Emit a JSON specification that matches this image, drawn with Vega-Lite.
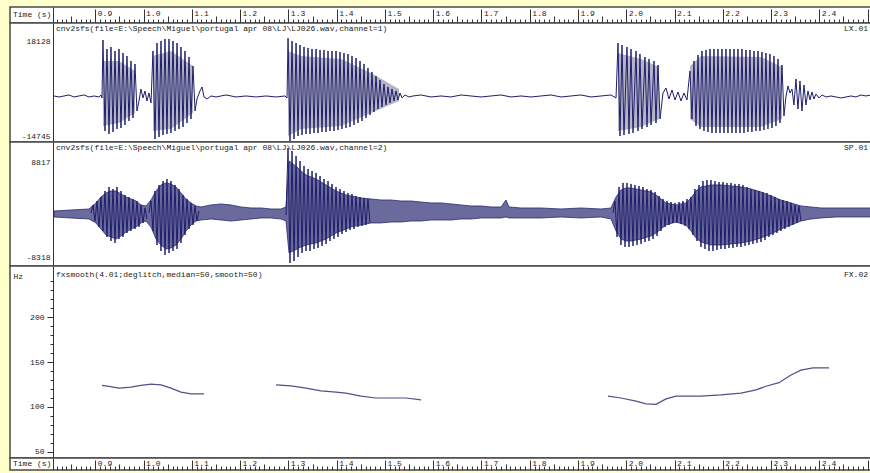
{
"$schema":"https://vega.github.io/schema/vega-lite/v6.json",
"background":"#FFFFCC",
"padding":{"left":9,"top":6,"right":0,"bottom":4},
"spacing":0,
"bounds":"flush",
"config":{
 "view":{"fill":"#FFFFFF","stroke":"#4a4a4a","strokeWidth":1.5},
 "axis":{"labelFont":"Liberation Mono","labelFontSize":8,"labelColor":"#222222","titleFont":"Liberation Mono","titleFontSize":8,"titleFontWeight":"normal","titleColor":"#222222","grid":false,"minExtent":0,"maxExtent":45,"domainColor":"#333333","tickColor":"#333333","tickWidth":1},
 "text":{"font":"Liberation Mono","fontSize":8,"color":"#222222"}
},
"datasets":{
"lx":[
{"t":0.8144,"v":-350},{"t":0.8248,"v":-670},{"t":0.8351,"v":-350},{"t":0.8455,"v":-30},{"t":0.8558,"v":-670},{"t":0.8662,"v":-350},{"t":0.8766,"v":-30},{"t":0.8869,"v":-670},{"t":0.8973,"v":-350},{"t":0.9077,"v":-670},{"t":0.9118,"v":-30},{"t":0.9139,"v":-990},
{"t":0.9159,"v":17570},{"t":0.9201,"v":-11550},{"t":0.9242,"v":14690},{"t":0.9284,"v":-12510},{"t":0.9325,"v":15330},{"t":0.9367,"v":-11870},{"t":0.9408,"v":14050},{"t":0.9449,"v":-10910},{"t":0.9491,"v":14690},{"t":0.9532,"v":-10590},{"t":0.9574,"v":13410},{"t":0.9615,"v":-9630},{"t":0.9656,"v":12450},{"t":0.9698,"v":-8350},{"t":0.9739,"v":10850},{"t":0.9781,"v":-7390},{"t":0.9822,"v":9890},{"t":0.9863,"v":-5150},
{"t":0.9905,"v":-1950},{"t":0.9946,"v":1890},{"t":0.9988,"v":-990},{"t":1.0029,"v":1250},{"t":1.0071,"v":-1950},{"t":1.0112,"v":610},{"t":1.0154,"v":-2590},
{"t":1.0195,"v":14050},{"t":1.0237,"v":-14110},{"t":1.0278,"v":16610},{"t":1.0320,"v":-13470},{"t":1.0361,"v":17250},{"t":1.0403,"v":-12830},{"t":1.0444,"v":17890},{"t":1.0485,"v":-12510},{"t":1.0527,"v":17890},{"t":1.0568,"v":-12190},{"t":1.0610,"v":17250},{"t":1.0651,"v":-11550},{"t":1.0693,"v":16610},{"t":1.0734,"v":-10910},{"t":1.0775,"v":15330},{"t":1.0817,"v":-10270},{"t":1.0858,"v":14050},{"t":1.0900,"v":-8990},{"t":1.0941,"v":12130},{"t":1.0983,"v":-7710},{"t":1.1024,"v":9250},{"t":1.1066,"v":-5150},
{"t":1.1107,"v":-1310},{"t":1.1169,"v":1250},{"t":1.1211,"v":2530},{"t":1.1252,"v":-670},{"t":1.1314,"v":-1310},{"t":1.1397,"v":-350},{"t":1.1501,"v":-670},{"t":1.1604,"v":-350},{"t":1.1708,"v":-30},{"t":1.1915,"v":-670},{"t":1.2122,"v":-350},{"t":1.2330,"v":-670},{"t":1.2537,"v":-350},{"t":1.2744,"v":-670},{"t":1.2930,"v":-350},{"t":1.2972,"v":-990},
{"t":1.2993,"v":18128},{"t":1.3034,"v":-14745},{"t":1.3076,"v":17250},{"t":1.3117,"v":-14110},{"t":1.3159,"v":16610},{"t":1.3200,"v":-13150},{"t":1.3241,"v":15970},{"t":1.3283,"v":-12830},{"t":1.3324,"v":15330},{"t":1.3366,"v":-12510},{"t":1.3407,"v":15010},{"t":1.3448,"v":-12510},{"t":1.3490,"v":14690},{"t":1.3531,"v":-12190},{"t":1.3573,"v":14690},{"t":1.3614,"v":-12190},{"t":1.3656,"v":14370},{"t":1.3697,"v":-11870},{"t":1.3738,"v":14370},{"t":1.3780,"v":-11870},{"t":1.3821,"v":14050},{"t":1.3863,"v":-11550},{"t":1.3904,"v":14050},{"t":1.3945,"v":-11550},{"t":1.3987,"v":14050},{"t":1.4028,"v":-11230},{"t":1.4070,"v":13730},{"t":1.4111,"v":-10910},{"t":1.4152,"v":13410},{"t":1.4194,"v":-10590},{"t":1.4235,"v":13090},{"t":1.4277,"v":-10270},{"t":1.4318,"v":12450},{"t":1.4360,"v":-9630},{"t":1.4401,"v":11810},{"t":1.4442,"v":-8990},{"t":1.4484,"v":10850},{"t":1.4525,"v":-8350},{"t":1.4567,"v":9890},{"t":1.4608,"v":-7390},{"t":1.4649,"v":8610},{"t":1.4691,"v":-6430},{"t":1.4732,"v":7330},{"t":1.4774,"v":-5470},{"t":1.4815,"v":6050},{"t":1.4857,"v":-4510},{"t":1.4898,"v":4770},{"t":1.4939,"v":-3870},{"t":1.4981,"v":3490},{"t":1.5022,"v":-3230},{"t":1.5064,"v":2530},{"t":1.5105,"v":-2590},{"t":1.5146,"v":1890},{"t":1.5188,"v":-1950},{"t":1.5229,"v":1250},{"t":1.5271,"v":-1630},{"t":1.5312,"v":610},{"t":1.5354,"v":-990},
{"t":1.5416,"v":-30},{"t":1.5499,"v":-670},{"t":1.5582,"v":-350},{"t":1.5747,"v":-30},{"t":1.5955,"v":-670},{"t":1.6162,"v":-350},{"t":1.6369,"v":-670},{"t":1.6576,"v":-30},{"t":1.6783,"v":-350},{"t":1.6991,"v":-670},{"t":1.7198,"v":-350},{"t":1.7405,"v":-30},{"t":1.7612,"v":-670},{"t":1.7819,"v":-350},{"t":1.8026,"v":-670},{"t":1.8234,"v":-350},{"t":1.8441,"v":-30},{"t":1.8648,"v":-670},{"t":1.8855,"v":-350},{"t":1.9062,"v":-30},{"t":1.9270,"v":-670},{"t":1.9477,"v":-350},{"t":1.9684,"v":-30},{"t":1.9788,"v":-990},
{"t":1.9829,"v":16610},{"t":1.9870,"v":-13150},{"t":1.9912,"v":15970},{"t":1.9953,"v":-12830},{"t":2.0015,"v":15330},{"t":2.0057,"v":-12510},{"t":2.0098,"v":14690},{"t":2.0140,"v":-12190},{"t":2.0202,"v":14050},{"t":2.0243,"v":-11550},{"t":2.0284,"v":13090},{"t":2.0326,"v":-10910},{"t":2.0388,"v":12130},{"t":2.0430,"v":-10270},{"t":2.0471,"v":11490},{"t":2.0513,"v":-9630},{"t":2.0575,"v":10850},{"t":2.0616,"v":-8990},{"t":2.0658,"v":9570},{"t":2.0699,"v":-7710},
{"t":2.0761,"v":610},{"t":2.0823,"v":2210},{"t":2.0885,"v":-1310},{"t":2.0948,"v":1570},{"t":2.1010,"v":-1630},{"t":2.1072,"v":930},{"t":2.1134,"v":-1950},{"t":2.1196,"v":610},{"t":2.1258,"v":-1630},
{"t":2.1320,"v":7650},{"t":2.1362,"v":-7710},{"t":2.1403,"v":10850},{"t":2.1445,"v":-9950},{"t":2.1486,"v":12770},{"t":2.1527,"v":-10910},{"t":2.1569,"v":14050},{"t":2.1610,"v":-11550},{"t":2.1652,"v":14370},{"t":2.1693,"v":-11870},{"t":2.1735,"v":14690},{"t":2.1776,"v":-12190},{"t":2.1817,"v":14690},{"t":2.1859,"v":-12190},{"t":2.1900,"v":14690},{"t":2.1942,"v":-12190},{"t":2.1983,"v":14690},{"t":2.2024,"v":-12190},{"t":2.2066,"v":14690},{"t":2.2107,"v":-12190},{"t":2.2149,"v":14690},{"t":2.2190,"v":-12190},{"t":2.2232,"v":14690},{"t":2.2273,"v":-12190},{"t":2.2314,"v":14690},{"t":2.2356,"v":-12190},{"t":2.2397,"v":14690},{"t":2.2439,"v":-12190},{"t":2.2480,"v":14370},{"t":2.2521,"v":-11870},{"t":2.2563,"v":14370},{"t":2.2604,"v":-11870},{"t":2.2646,"v":14050},{"t":2.2687,"v":-11550},{"t":2.2729,"v":14050},{"t":2.2770,"v":-11550},{"t":2.2811,"v":13730},{"t":2.2853,"v":-11230},{"t":2.2894,"v":13410},{"t":2.2936,"v":-10910},{"t":2.2977,"v":13090},{"t":2.3019,"v":-10590},{"t":2.3060,"v":12450},{"t":2.3101,"v":-9950},{"t":2.3143,"v":11490},{"t":2.3184,"v":-8990},{"t":2.3226,"v":9570},{"t":2.3267,"v":-6750},
{"t":2.3308,"v":-670},{"t":2.3350,"v":2850},{"t":2.3391,"v":610},{"t":2.3433,"v":1890},{"t":2.3474,"v":-3230},{"t":2.3516,"v":5090},{"t":2.3557,"v":-4510},{"t":2.3599,"v":4450},{"t":2.3640,"v":-5150},{"t":2.3682,"v":3170},{"t":2.3723,"v":-3230},{"t":2.3765,"v":1250},{"t":2.3806,"v":-1630},{"t":2.3847,"v":930},{"t":2.3889,"v":-1310},{"t":2.3930,"v":290},{"t":2.3992,"v":-990},{"t":2.4055,"v":-30},{"t":2.4137,"v":-670},{"t":2.4241,"v":-350},{"t":2.4344,"v":-670},{"t":2.4448,"v":-990},{"t":2.4552,"v":-670},{"t":2.4656,"v":-350},{"t":2.4759,"v":-670},{"t":2.4863,"v":-30},{"t":2.4966,"v":-350},{"t":2.5070,"v":-30}
],
"lxEnv":[
{"seg":"A","t":0.9159,"hi":10850,"lo":-9950},{"seg":"A","t":0.9491,"hi":10850,"lo":-8990},{"seg":"A","t":0.9822,"hi":7650,"lo":-5790},
{"seg":"B","t":1.0195,"hi":12450,"lo":-11550},{"seg":"B","t":1.0568,"hi":14050,"lo":-10910},{"seg":"B","t":1.1024,"hi":9250,"lo":-5790},
{"seg":"C","t":1.2993,"hi":14050,"lo":-13150},{"seg":"C","t":1.3262,"hi":12450,"lo":-10910},{"seg":"C","t":1.4091,"hi":11490,"lo":-9950},{"seg":"C","t":1.4711,"hi":7010,"lo":-5790},{"seg":"C","t":1.5292,"hi":1890,"lo":-1950},
{"seg":"D","t":1.9829,"hi":13410,"lo":-11550},{"seg":"D","t":2.0306,"hi":11490,"lo":-10270},{"seg":"D","t":2.0679,"hi":8930,"lo":-7710},
{"seg":"E","t":2.1320,"hi":9250,"lo":-7710},{"seg":"E","t":2.1548,"hi":12450,"lo":-10270},{"seg":"E","t":2.2791,"hi":12130,"lo":-10270},{"seg":"E","t":2.3226,"hi":8930,"lo":-7710}
],
"spEnv":[
{"t":0.8144,"hi":-570,"lo":-1460},{"t":0.8496,"hi":-420,"lo":-1610},{"t":0.8869,"hi":-270,"lo":-1760},{"t":0.9014,"hi":630,"lo":-2350},{"t":0.9118,"hi":1520,"lo":-3250},{"t":0.9222,"hi":2120,"lo":-4140},{"t":0.9325,"hi":2410,"lo":-4440},{"t":0.9429,"hi":2410,"lo":-4740},{"t":0.9532,"hi":1970,"lo":-4290},{"t":0.9636,"hi":1520,"lo":-3700},{"t":0.9739,"hi":1220,"lo":-3250},{"t":0.9843,"hi":920,"lo":-2950},{"t":0.9946,"hi":330,"lo":-2350},{"t":1.0050,"hi":180,"lo":-2060},{"t":1.0154,"hi":1070,"lo":-2950},{"t":1.0257,"hi":2410,"lo":-4740},{"t":1.0361,"hi":3310,"lo":-5630},{"t":1.0464,"hi":3610,"lo":-6230},{"t":1.0568,"hi":3460,"lo":-6080},{"t":1.0672,"hi":3010,"lo":-5630},{"t":1.0775,"hi":2120,"lo":-4740},{"t":1.0879,"hi":1220,"lo":-3550},{"t":1.0983,"hi":630,"lo":-2650},{"t":1.1086,"hi":180,"lo":-2060},{"t":1.1190,"hi":30,"lo":-1910},{"t":1.1397,"hi":330,"lo":-1760},{"t":1.1604,"hi":480,"lo":-1910},{"t":1.1811,"hi":330,"lo":-2060},{"t":1.2019,"hi":30,"lo":-1910},{"t":1.2226,"hi":-120,"lo":-1760},{"t":1.2433,"hi":-120,"lo":-1610},{"t":1.2640,"hi":-270,"lo":-1610},{"t":1.2847,"hi":-270,"lo":-1760},{"t":1.2951,"hi":30,"lo":-2060},
{"t":1.3013,"hi":6880,"lo":-6820},{"t":1.3096,"hi":6440,"lo":-6530},{"t":1.3179,"hi":5990,"lo":-6230},{"t":1.3262,"hi":5390,"lo":-5930},{"t":1.3366,"hi":4800,"lo":-5630},{"t":1.3469,"hi":4500,"lo":-5480},{"t":1.3573,"hi":4200,"lo":-5330},{"t":1.3676,"hi":3750,"lo":-5040},{"t":1.3780,"hi":3310,"lo":-4740},{"t":1.3883,"hi":2860,"lo":-4290},{"t":1.3987,"hi":2410,"lo":-3840},{"t":1.4091,"hi":2120,"lo":-3550},{"t":1.4194,"hi":1820,"lo":-3250},{"t":1.4297,"hi":1670,"lo":-2950},{"t":1.4504,"hi":1370,"lo":-2650},{"t":1.4711,"hi":1220,"lo":-2350},{"t":1.4919,"hi":1070,"lo":-2350},{"t":1.5126,"hi":1070,"lo":-2210},{"t":1.5333,"hi":920,"lo":-2210},{"t":1.5540,"hi":920,"lo":-2060},{"t":1.5747,"hi":770,"lo":-2060},{"t":1.5955,"hi":630,"lo":-1910},{"t":1.6162,"hi":630,"lo":-1910},{"t":1.6369,"hi":480,"lo":-1910},{"t":1.6576,"hi":330,"lo":-1760},{"t":1.6783,"hi":180,"lo":-1760},{"t":1.6991,"hi":180,"lo":-1610},{"t":1.7198,"hi":30,"lo":-1610},{"t":1.7405,"hi":30,"lo":-1610},{"t":1.7509,"hi":1070,"lo":-1460},{"t":1.7571,"hi":30,"lo":-1610},{"t":1.7819,"hi":-120,"lo":-1610},{"t":1.8234,"hi":-120,"lo":-1610},{"t":1.8648,"hi":-270,"lo":-1460},{"t":1.9062,"hi":-120,"lo":-1610},{"t":1.9477,"hi":-270,"lo":-1460},{"t":1.9684,"hi":-120,"lo":-1760},
{"t":1.9788,"hi":1520,"lo":-3550},{"t":1.9891,"hi":2560,"lo":-4740},{"t":1.9995,"hi":2860,"lo":-5040},{"t":2.0098,"hi":2860,"lo":-5040},{"t":2.0306,"hi":2560,"lo":-4740},{"t":2.0513,"hi":2260,"lo":-4290},{"t":2.0617,"hi":1820,"lo":-3840},{"t":2.0720,"hi":1220,"lo":-3250},{"t":2.0823,"hi":630,"lo":-2650},{"t":2.1031,"hi":330,"lo":-2210},{"t":2.1238,"hi":630,"lo":-2650},{"t":2.1341,"hi":1370,"lo":-3550},{"t":2.1445,"hi":2410,"lo":-4590},{"t":2.1548,"hi":3010,"lo":-5190},{"t":2.1755,"hi":3310,"lo":-5630},{"t":2.1962,"hi":3310,"lo":-5630},{"t":2.2170,"hi":3160,"lo":-5480},{"t":2.2377,"hi":3010,"lo":-5330},{"t":2.2584,"hi":2710,"lo":-5040},{"t":2.2791,"hi":2260,"lo":-4590},{"t":2.2998,"hi":1670,"lo":-3990},{"t":2.3205,"hi":1070,"lo":-3250},{"t":2.3413,"hi":630,"lo":-2650},{"t":2.3620,"hi":180,"lo":-2060},{"t":2.3827,"hi":30,"lo":-1760},{"t":2.4034,"hi":-120,"lo":-1610},{"t":2.4345,"hi":-120,"lo":-1460},{"t":2.4656,"hi":-120,"lo":-1460},{"t":2.5070,"hi":-120,"lo":-1460}
],
"sp":[
{"seg":1,"t":0.8911,"v":-860},{"seg":1,"t":0.8953,"v":330},{"seg":1,"t":0.8994,"v":-2060},{"seg":1,"t":0.9035,"v":920},{"seg":1,"t":0.9077,"v":-2950},{"seg":1,"t":0.9118,"v":1520},{"seg":1,"t":0.9159,"v":-3550},{"seg":1,"t":0.9201,"v":2410},{"seg":1,"t":0.9242,"v":-4440},{"seg":1,"t":0.9284,"v":3010},{"seg":1,"t":0.9325,"v":-5040},{"seg":1,"t":0.9367,"v":2710},{"seg":1,"t":0.9408,"v":-5330},{"seg":1,"t":0.9449,"v":3010},{"seg":1,"t":0.9491,"v":-4740},{"seg":1,"t":0.9532,"v":2410},{"seg":1,"t":0.9574,"v":-4440},{"seg":1,"t":0.9615,"v":1820},{"seg":1,"t":0.9656,"v":-3840},{"seg":1,"t":0.9698,"v":1520},{"seg":1,"t":0.9739,"v":-3550},{"seg":1,"t":0.9781,"v":1220},{"seg":1,"t":0.9822,"v":-3250},{"seg":1,"t":0.9863,"v":920},{"seg":1,"t":0.9905,"v":-2950},{"seg":1,"t":0.9946,"v":330},{"seg":1,"t":0.9988,"v":-2350},{"seg":1,"t":1.0029,"v":-120},{"seg":1,"t":1.0071,"v":-1760},
{"seg":2,"t":1.0112,"v":-860},{"seg":2,"t":1.0154,"v":920},{"seg":2,"t":1.0195,"v":-3550},{"seg":2,"t":1.0237,"v":2410},{"seg":2,"t":1.0278,"v":-5630},{"seg":2,"t":1.0320,"v":3310},{"seg":2,"t":1.0361,"v":-6530},{"seg":2,"t":1.0403,"v":3900},{"seg":2,"t":1.0444,"v":-7120},{"seg":2,"t":1.0485,"v":4200},{"seg":2,"t":1.0527,"v":-6820},{"seg":2,"t":1.0568,"v":3900},{"seg":2,"t":1.0610,"v":-6530},{"seg":2,"t":1.0651,"v":3310},{"seg":2,"t":1.0693,"v":-6230},{"seg":2,"t":1.0734,"v":2710},{"seg":2,"t":1.0775,"v":-5330},{"seg":2,"t":1.0817,"v":1820},{"seg":2,"t":1.0858,"v":-4140},{"seg":2,"t":1.0900,"v":1220},{"seg":2,"t":1.0941,"v":-3250},{"seg":2,"t":1.0983,"v":630},{"seg":2,"t":1.1024,"v":-2650},{"seg":2,"t":1.1066,"v":180},{"seg":2,"t":1.1107,"v":-2060},{"seg":2,"t":1.1149,"v":-570},
{"seg":3,"t":1.2951,"v":-1160},{"seg":3,"t":1.2993,"v":8817},{"seg":3,"t":1.3034,"v":-8318},{"seg":3,"t":1.3076,"v":8370},{"seg":3,"t":1.3117,"v":-8020},{"seg":3,"t":1.3159,"v":7630},{"seg":3,"t":1.3200,"v":-7420},{"seg":3,"t":1.3241,"v":6880},{"seg":3,"t":1.3283,"v":-6820},{"seg":3,"t":1.3324,"v":6140},{"seg":3,"t":1.3366,"v":-6530},{"seg":3,"t":1.3407,"v":5690},{"seg":3,"t":1.3448,"v":-6530},{"seg":3,"t":1.3490,"v":5390},{"seg":3,"t":1.3531,"v":-6230},{"seg":3,"t":1.3573,"v":5100},{"seg":3,"t":1.3614,"v":-6080},{"seg":3,"t":1.3656,"v":4650},{"seg":3,"t":1.3697,"v":-5780},{"seg":3,"t":1.3738,"v":4200},{"seg":3,"t":1.3780,"v":-5480},{"seg":3,"t":1.3821,"v":3900},{"seg":3,"t":1.3863,"v":-5040},{"seg":3,"t":1.3904,"v":3460},{"seg":3,"t":1.3945,"v":-4740},{"seg":3,"t":1.3987,"v":3010},{"seg":3,"t":1.4028,"v":-4440},{"seg":3,"t":1.4070,"v":2710},{"seg":3,"t":1.4111,"v":-3990},{"seg":3,"t":1.4152,"v":2410},{"seg":3,"t":1.4194,"v":-3700},{"seg":3,"t":1.4235,"v":2120},{"seg":3,"t":1.4277,"v":-3400},{"seg":3,"t":1.4318,"v":1970},{"seg":3,"t":1.4360,"v":-3250},{"seg":3,"t":1.4401,"v":1670},{"seg":3,"t":1.4442,"v":-2950},{"seg":3,"t":1.4484,"v":1520},{"seg":3,"t":1.4525,"v":-2800},{"seg":3,"t":1.4567,"v":1370},{"seg":3,"t":1.4608,"v":-2650},{"seg":3,"t":1.4649,"v":1220},{"seg":3,"t":1.4691,"v":-2350},
{"seg":4,"t":1.9726,"v":-860},{"seg":4,"t":1.9767,"v":920},{"seg":4,"t":1.9809,"v":-4440},{"seg":4,"t":1.9850,"v":3010},{"seg":4,"t":1.9891,"v":-5630},{"seg":4,"t":1.9933,"v":3610},{"seg":4,"t":1.9974,"v":-5930},{"seg":4,"t":2.0015,"v":3610},{"seg":4,"t":2.0057,"v":-5930},{"seg":4,"t":2.0098,"v":3460},{"seg":4,"t":2.0140,"v":-5780},{"seg":4,"t":2.0181,"v":3310},{"seg":4,"t":2.0223,"v":-5630},{"seg":4,"t":2.0264,"v":3160},{"seg":4,"t":2.0306,"v":-5480},{"seg":4,"t":2.0347,"v":3010},{"seg":4,"t":2.0388,"v":-5190},{"seg":4,"t":2.0430,"v":2710},{"seg":4,"t":2.0471,"v":-5040},{"seg":4,"t":2.0513,"v":2560},{"seg":4,"t":2.0554,"v":-4740},{"seg":4,"t":2.0596,"v":2260},{"seg":4,"t":2.0637,"v":-4290},{"seg":4,"t":2.0679,"v":1670},{"seg":4,"t":2.0720,"v":-3550},{"seg":4,"t":2.0761,"v":1220},{"seg":4,"t":2.0803,"v":-2950},{"seg":4,"t":2.0844,"v":920},{"seg":4,"t":2.0885,"v":-2650},{"seg":4,"t":2.0927,"v":770},{"seg":4,"t":2.0968,"v":-2350},{"seg":4,"t":2.1010,"v":630},{"seg":4,"t":2.1051,"v":-2350},{"seg":4,"t":2.1093,"v":770},{"seg":4,"t":2.1134,"v":-2500},{"seg":4,"t":2.1175,"v":920},{"seg":4,"t":2.1217,"v":-2800},{"seg":4,"t":2.1258,"v":1220},{"seg":4,"t":2.1300,"v":-3250},
{"seg":4,"t":2.1341,"v":1520},{"seg":4,"t":2.1382,"v":-4140},{"seg":4,"t":2.1424,"v":2710},{"seg":4,"t":2.1465,"v":-5040},{"seg":4,"t":2.1507,"v":3310},{"seg":4,"t":2.1548,"v":-5930},{"seg":4,"t":2.1589,"v":3900},{"seg":4,"t":2.1631,"v":-6230},{"seg":4,"t":2.1672,"v":4050},{"seg":4,"t":2.1714,"v":-6530},{"seg":4,"t":2.1755,"v":4050},{"seg":4,"t":2.1797,"v":-6530},{"seg":4,"t":2.1838,"v":3900},{"seg":4,"t":2.1879,"v":-6380},{"seg":4,"t":2.1921,"v":3750},{"seg":4,"t":2.1962,"v":-6230},{"seg":4,"t":2.2004,"v":3750},{"seg":4,"t":2.2045,"v":-6230},{"seg":4,"t":2.2087,"v":3610},{"seg":4,"t":2.2128,"v":-6080},{"seg":4,"t":2.2170,"v":3610},{"seg":4,"t":2.2211,"v":-6080},{"seg":4,"t":2.2252,"v":3460},{"seg":4,"t":2.2294,"v":-5930},{"seg":4,"t":2.2335,"v":3460},{"seg":4,"t":2.2377,"v":-5930},{"seg":4,"t":2.2418,"v":3310},{"seg":4,"t":2.2460,"v":-5780},{"seg":4,"t":2.2501,"v":3010},{"seg":4,"t":2.2542,"v":-5630},{"seg":4,"t":2.2584,"v":2710},{"seg":4,"t":2.2625,"v":-5480},{"seg":4,"t":2.2667,"v":2560},{"seg":4,"t":2.2708,"v":-5330},{"seg":4,"t":2.2749,"v":2410},{"seg":4,"t":2.2791,"v":-5190},{"seg":4,"t":2.2832,"v":2260},{"seg":4,"t":2.2874,"v":-4890},{"seg":4,"t":2.2915,"v":2120},{"seg":4,"t":2.2956,"v":-4440},{"seg":4,"t":2.2998,"v":1820},{"seg":4,"t":2.3039,"v":-4140},{"seg":4,"t":2.3081,"v":1520},{"seg":4,"t":2.3122,"v":-3840},{"seg":4,"t":2.3164,"v":1220},{"seg":4,"t":2.3205,"v":-3550},{"seg":4,"t":2.3246,"v":1070},{"seg":4,"t":2.3288,"v":-3250},{"seg":4,"t":2.3329,"v":920},{"seg":4,"t":2.3371,"v":-2950},{"seg":4,"t":2.3413,"v":630},{"seg":4,"t":2.3454,"v":-2650},{"seg":4,"t":2.3495,"v":330},{"seg":4,"t":2.3537,"v":-2350},{"seg":4,"t":2.3578,"v":180},{"seg":4,"t":2.3620,"v":-2060}
],
"f0":[
{"seg":1,"t":0.9139,"hz":124},{"seg":1,"t":0.9284,"hz":123},{"seg":1,"t":0.9491,"hz":121},{"seg":1,"t":0.9739,"hz":122},{"seg":1,"t":0.9946,"hz":124},{"seg":1,"t":1.0154,"hz":125.5},{"seg":1,"t":1.0361,"hz":124.5},{"seg":1,"t":1.0568,"hz":121},{"seg":1,"t":1.0775,"hz":116.5},{"seg":1,"t":1.0983,"hz":114.5},{"seg":1,"t":1.1252,"hz":114.5},
{"seg":2,"t":1.2744,"hz":124.5},{"seg":2,"t":1.3055,"hz":123.5},{"seg":2,"t":1.3366,"hz":121},{"seg":2,"t":1.3676,"hz":118},{"seg":2,"t":1.3987,"hz":116.5},{"seg":2,"t":1.4194,"hz":115.5},{"seg":2,"t":1.4504,"hz":112},{"seg":2,"t":1.4815,"hz":110},{"seg":2,"t":1.5126,"hz":110},{"seg":2,"t":1.5437,"hz":110},{"seg":2,"t":1.5747,"hz":108},
{"seg":3,"t":1.9622,"hz":112},{"seg":3,"t":1.9891,"hz":110},{"seg":3,"t":2.0202,"hz":106.5},{"seg":3,"t":2.0409,"hz":103.5},{"seg":3,"t":2.0617,"hz":103},{"seg":3,"t":2.0823,"hz":109},{"seg":3,"t":2.1031,"hz":112},{"seg":3,"t":2.1548,"hz":112},{"seg":3,"t":2.1962,"hz":113.5},{"seg":3,"t":2.2377,"hz":115.5},{"seg":3,"t":2.2688,"hz":119},{"seg":3,"t":2.2895,"hz":123},{"seg":3,"t":2.3164,"hz":127},{"seg":3,"t":2.3413,"hz":135.5},{"seg":3,"t":2.3620,"hz":141},{"seg":3,"t":2.3869,"hz":143.5},{"seg":3,"t":2.4200,"hz":143.5}
]
},
"vconcat":[
{
 "width":861,"height":16,
 "data":{"values":[{"label":"Time (s)"}]},
 "mark":{"type":"text","align":"left","baseline":"middle"},
 "encoding":{
  "x":{"datum":0.7295,"type":"quantitative","scale":{"domain":[0.72329,2.50703],"nice":false,"zero":false},
   "axis":{"orient":"top","offset":-16,"tickCount":180,"domain":false,"labelFlush":false,"labelOverlap":false,"labelBound":false,"labelAlign":"left","labelBaseline":"top","labelOffset":2,"labelPadding":0,
    "labelExpr":"(datum.value < 0.815 || datum.value > 2.45 || round(datum.value*100) % 10 !== 0) ? '' : format(datum.value, '.1f')",
    "tickSize":{"expr":"round(datum.value*100) % 10 === 0 ? 14 : (round(datum.value*100) % 5 === 0 ? 7 : 4)"},
    "tickOpacity":{"expr":"datum.value < 0.815 ? 0 : 1"},
    "title":null}},
  "y":{"datum":0,"type":"quantitative","scale":{"domain":[-1,1]},"axis":{"offset":-43,"ticks":false,"labels":false,"domain":true,"title":null}},
  "text":{"field":"label"}
 }
},
{
 "width":861,"height":119,
 "layer":[
  {"data":{"name":"lxEnv"},"mark":{"type":"area","color":"#b4b4c6"},
   "encoding":{"x":{"field":"t","type":"quantitative","scale":{"domain":[0.72329,2.50703],"nice":false,"zero":false},"axis":null},
    "y":{"field":"hi","type":"quantitative","scale":{"domain":[-15080,23000],"nice":false,"zero":false},
     "axis":{"offset":-43,"values":[18128,-14745],"labelExpr":"'' + datum.value","ticks":false,"domain":true,"labelPadding":3,"labelBaseline":"middle","labelOffset":{"expr":"datum.value > 0 ? 3 : -4"},"title":null}},
    "y2":{"field":"lo"},"detail":{"field":"seg"}}},
  {"data":{"name":"lx"},"mark":{"type":"line","color":"#1f1f6b","strokeWidth":1},
   "encoding":{"x":{"field":"t","type":"quantitative","axis":null},"y":{"field":"v","type":"quantitative",
     "axis":{"offset":-43,"values":[18128,-14745],"labelExpr":"'' + datum.value","ticks":false,"domain":true,"labelPadding":3,"labelBaseline":"middle","labelOffset":{"expr":"datum.value > 0 ? 3 : -4"},"title":null}}}},
  {"data":{"values":[{"left":"cnv2sfs(file=E:\\Speech\\Miguel\\portugal apr 08\\LJ\\LJ026.wav,channel=1)","right":"LX.01"}]},
   "layer":[
    {"mark":{"type":"text","align":"left","baseline":"top","dy":2},
     "encoding":{"x":{"datum":0.8186,"type":"quantitative","axis":null},"text":{"field":"left"}}},
    {"mark":{"type":"text","align":"right","baseline":"top","dy":2},
     "encoding":{"x":{"datum":2.5008,"type":"quantitative","axis":null},"text":{"field":"right"}}}
   ],
   "encoding":{"y":{"datum":23000,"type":"quantitative",
     "axis":{"offset":-43,"values":[18128,-14745],"labelExpr":"'' + datum.value","ticks":false,"domain":true,"labelPadding":3,"labelBaseline":"middle","labelOffset":{"expr":"datum.value > 0 ? 3 : -4"},"title":null}}}}
 ]
},
{
 "width":861,"height":124,
 "layer":[
  {"data":{"name":"spEnv"},"mark":{"type":"area","color":"#6a6a9c","stroke":"#2a2a70","strokeWidth":0.8},
   "encoding":{"x":{"field":"t","type":"quantitative","scale":{"domain":[0.72329,2.50703],"nice":false,"zero":false},"axis":null},
    "y":{"field":"hi","type":"quantitative","scale":{"domain":[-8765,9711],"nice":false,"zero":false},
     "axis":{"offset":-43,"values":[8817,-8318],"labelExpr":"'' + datum.value","ticks":false,"domain":true,"labelPadding":3,"labelBaseline":"middle","labelOffset":{"expr":"datum.value > 0 ? 14 : -6"},"title":null}},
    "y2":{"field":"lo"}}},
  {"data":{"name":"sp"},"mark":{"type":"line","color":"#1f1f6b","strokeWidth":1},
   "encoding":{"x":{"field":"t","type":"quantitative","axis":null},"y":{"field":"v","type":"quantitative",
     "axis":{"offset":-43,"values":[8817,-8318],"labelExpr":"'' + datum.value","ticks":false,"domain":true,"labelPadding":3,"labelBaseline":"middle","labelOffset":{"expr":"datum.value > 0 ? 14 : -6"},"title":null}},"detail":{"field":"seg"}}},
  {"data":{"values":[{"left":"cnv2sfs(file=E:\\Speech\\Miguel\\portugal apr 08\\LJ\\LJ026.wav,channel=2)","right":"SP.01"}]},
   "layer":[
    {"mark":{"type":"text","align":"left","baseline":"top","dy":2},
     "encoding":{"x":{"datum":0.8186,"type":"quantitative","axis":null},"text":{"field":"left"}}},
    {"mark":{"type":"text","align":"right","baseline":"top","dy":2},
     "encoding":{"x":{"datum":2.5008,"type":"quantitative","axis":null},"text":{"field":"right"}}}
   ],
   "encoding":{"y":{"datum":9711,"type":"quantitative",
     "axis":{"offset":-43,"values":[8817,-8318],"labelExpr":"'' + datum.value","ticks":false,"domain":true,"labelPadding":3,"labelBaseline":"middle","labelOffset":{"expr":"datum.value > 0 ? 14 : -6"},"title":null}}}}
 ]
},
{
 "width":861,"height":192,
 "layer":[
  {"data":{"name":"f0"},"mark":{"type":"line","color":"#50508a","strokeWidth":1.2},
   "encoding":{"x":{"field":"t","type":"quantitative","scale":{"domain":[0.72329,2.50703],"nice":false,"zero":false},"axis":null},
    "y":{"field":"hz","type":"quantitative","scale":{"domain":[43.3,256.7],"nice":false,"zero":false},
     "axis":{"offset":-43,"values":[50,60,70,80,90,100,110,120,130,140,150,160,170,180,190,200,210,220,230,240],"domain":true,"ticks":true,
      "tickSize":{"expr":"datum.value % 50 === 0 ? 6 : 3"},"labelExpr":"datum.value % 50 === 0 ? datum.label : ''","labelOverlap":false,"labelPadding":3,
      "title":"Hz","titleAngle":0,"titleAlign":"left","titleBaseline":"top","titleX":-40,"titleY":6}},
    "detail":{"field":"seg"}}},
  {"data":{"values":[{"left":"fxsmooth(4.01;deglitch,median=50,smooth=50)","right":"FX.02"}]},
   "layer":[
    {"mark":{"type":"text","align":"left","baseline":"top","dy":5},
     "encoding":{"x":{"datum":0.8186,"type":"quantitative","axis":null},"text":{"field":"left"}}},
    {"mark":{"type":"text","align":"right","baseline":"top","dy":5},
     "encoding":{"x":{"datum":2.5008,"type":"quantitative","axis":null},"text":{"field":"right"}}}
   ],
   "encoding":{"y":{"datum":256.7,"type":"quantitative",
     "axis":{"offset":-43,"values":[50,60,70,80,90,100,110,120,130,140,150,160,170,180,190,200,210,220,230,240],"domain":true,"ticks":true,
      "tickSize":{"expr":"datum.value % 50 === 0 ? 6 : 3"},"labelExpr":"datum.value % 50 === 0 ? datum.label : ''","labelOverlap":false,"labelPadding":3,
      "title":"Hz","titleAngle":0,"titleAlign":"left","titleBaseline":"top","titleX":-40,"titleY":6}}}}
 ]
},
{
 "width":861,"height":12,
 "data":{"values":[{"label":"Time (s)"}]},
 "mark":{"type":"text","align":"left","baseline":"middle"},
 "encoding":{
  "x":{"datum":0.7295,"type":"quantitative","scale":{"domain":[0.72329,2.50703],"nice":false,"zero":false},
   "axis":{"orient":"top","offset":-12,"tickCount":180,"domain":false,"labelFlush":false,"labelOverlap":false,"labelBound":false,"labelAlign":"left","labelBaseline":"top","labelOffset":2,"labelPadding":1,
    "labelExpr":"(datum.value < 0.815 || datum.value > 2.45 || round(datum.value*100) % 10 !== 0) ? '' : format(datum.value, '.1f')",
    "tickSize":{"expr":"round(datum.value*100) % 10 === 0 ? 10 : (round(datum.value*100) % 5 === 0 ? 6 : 4)"},
    "tickOpacity":{"expr":"datum.value < 0.815 ? 0 : 1"},
    "title":null}},
  "y":{"datum":0,"type":"quantitative","scale":{"domain":[-1,1]},"axis":{"offset":-43,"ticks":false,"labels":false,"domain":true,"title":null}},
  "text":{"field":"label"}
 }
}
]
}
